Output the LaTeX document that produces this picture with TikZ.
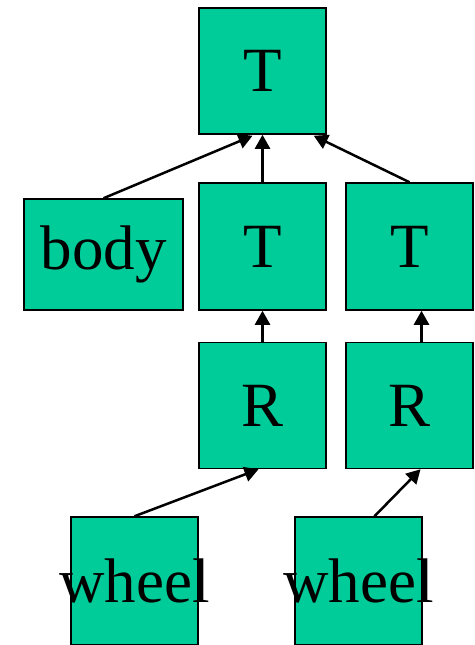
\documentclass[tikz,border=0pt]{standalone}
\usepackage{fontspec}
\setmainfont{Liberation Serif}
\usetikzlibrary{arrows.meta,calc}
\definecolor{boxfill}{HTML}{00CC99}
\tikzset{
  part/.style={draw=black, line width=1.5pt, fill=boxfill, inner sep=0pt,
    minimum width=127pt, minimum height=126pt, font=\fontsize{63}{63}\selectfont},
  caption/.style={inner sep=0pt, font=\fontsize{63}{63}\selectfont},
  link/.style={line width=2.5pt, -{Triangle[length=14pt,width=15pt]}}
}
\begin{document}
\begin{tikzpicture}[x=1pt,y=-1pt]
  \useasboundingbox (0,0) rectangle (474,645);
  % transform nodes and parts
  \node[part] (top) at (262.5,71) {T};
  \node[part, minimum width=159pt, minimum height=111pt] (body) at (103.5,254.5) {body};
  \node[part, minimum height=127pt] (tmid) at (262.5,246.5) {T};
  \node[part, minimum height=127pt] (tright) at (409.5,246.5) {T};
  \node[part] (rleft) at (262.5,405.5) {R};
  \node[part] (rright) at (409.5,405.5) {R};
  \node[part, minimum height=128pt] (wleft) at (134.5,581) {};
  \node[part, minimum height=128pt] (wright) at (358.5,581) {};
  % wheel names are wider than their boxes
  \node[caption] (wleftname) at (wleft) {wheel};
  \node[caption] (wrightname) at (wright) {wheel};
  % attachment points
  \coordinate (topL) at ($(top.south)+(-10,1)$);
  \coordinate (topR) at ($(top.south east)+(-13,1)$);
  \coordinate (trEnd) at ($(tright.south)+(12,0)$);
  \coordinate (rrStart) at ($(rright.north)+(12,0)$);
  \coordinate (wrStart) at ($(wright.north)+(16,0)$);
  \coordinate (rrEnd) at ($(rright.south)+(11,0)$);
  % connectors
  \draw[link] (body.north) -- (topL);
  \draw[link] (tmid.north) -- (top.south);
  \draw[link] (tright.north) -- (topR);
  \draw[link] (rleft.north) -- (tmid.south);
  \draw[link] (rrStart) -- (trEnd);
  \draw[link] (wleft.north) -- ($(rleft.south)+(-4,0)$);
  \draw[link] (wrStart) -- (rrEnd);
\end{tikzpicture}
\end{document}
